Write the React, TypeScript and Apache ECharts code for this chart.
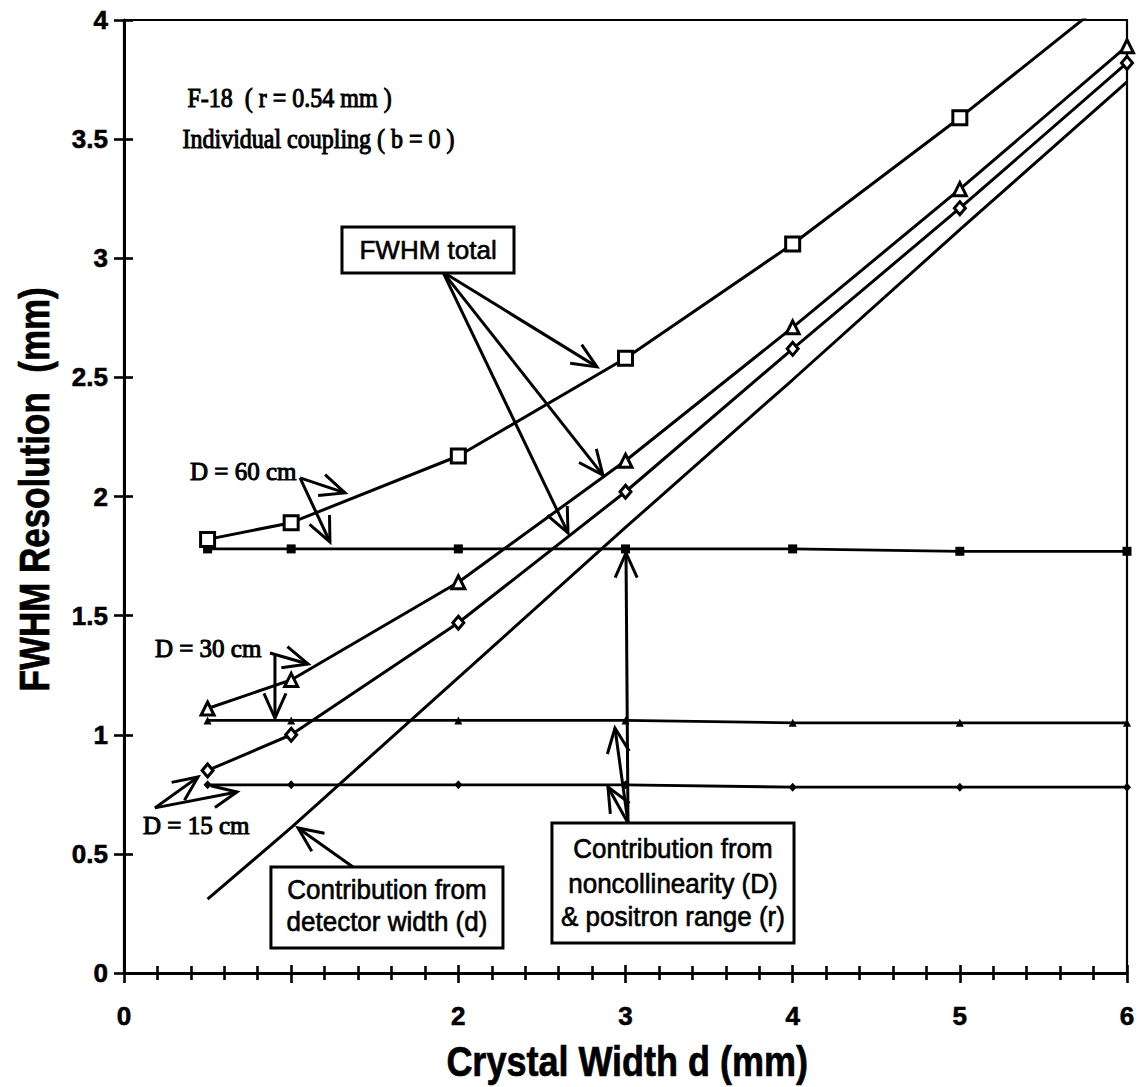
import React, { useEffect, useRef } from "react";
import * as echarts from "echarts";

// Crystal width d (mm)
const crystalWidth = [0.5, 1, 2, 3, 4, 5, 6];
// FWHM total for D = 60, 30, 15 cm
const total60 = [1.82, 1.89, 2.17, 2.58, 3.06, 3.59, 4.15];
const total30 = [1.11, 1.23, 1.64, 2.15, 2.71, 3.29, 3.89];
const total15 = [0.85, 1.0, 1.47, 2.02, 2.62, 3.21, 3.82];
// Contribution from noncollinearity (D) & positron range (r)
const noncol60 = [1.78, 1.78, 1.78, 1.78, 1.78, 1.77, 1.77];
const noncol30 = [1.06, 1.06, 1.06, 1.06, 1.05, 1.05, 1.05];
const noncol15 = [0.79, 0.79, 0.79, 0.79, 0.78, 0.78, 0.78];
// Contribution from detector width (d)
const detector = [0.31, 0.61, 1.24, 1.87, 2.49, 3.12, 3.74];
// Tick labels
const xTickLabels: Record<number, string> = { 0: "0", 1: "", 2: "2", 3: "3", 4: "4", 5: "5", 6: "6" };
const yTickLabels: Record<string, string> = {
  "0": "0", "0.5": "0.5", "1": "1", "1.5": "1.5", "2": "2", "2.5": "2.5", "3": "3", "3.5": "3.5", "4": "4",
};

const SANS = '"Liberation Sans", Arial, sans-serif';
const SERIF = '"Liberation Serif", "Times New Roman", serif';
const BLACK = "#000";

const pairs = (ys: number[]) => crystalWidth.map((x, i) => [x, ys[i]]);

function App() {
  const ref = useRef<HTMLDivElement>(null);

  useEffect(() => {
    const chart = echarts.init(ref.current!, null, { renderer: "svg" });

    const openLine = (name: string, ys: number[], symbol: string, size: any) => ({
      name,
      type: "line",
      data: pairs(ys),
      symbol,
      symbolSize: size,
      showAllSymbol: true,
      clip: true,
      z: 5,
      lineStyle: { color: BLACK, width: 3 },
      itemStyle: { color: "#fff", borderColor: BLACK, borderWidth: 3 },
      emphasis: { disabled: true },
    });
    const flatLine = (name: string, ys: number[], symbol: string, size: any) => ({
      name,
      type: "line",
      data: pairs(ys),
      symbol,
      symbolSize: size,
      showAllSymbol: true,
      clip: true,
      z: 3,
      lineStyle: { color: BLACK, width: 2.8 },
      itemStyle: { color: BLACK, borderWidth: 0 },
      emphasis: { disabled: true },
    });

    const axisLabelX = {
      fontFamily: SANS,
      fontWeight: "bold",
      fontSize: 26,
      color: BLACK,
      margin: 30,
      textBorderColor: BLACK,
      textBorderWidth: 0.6,
      formatter: (v: number) => (xTickLabels[v] !== undefined ? xTickLabels[v] : ""),
    };
    const axisLabelY = {
      fontFamily: SANS,
      fontWeight: "bold",
      fontSize: 26,
      color: BLACK,
      margin: 16,
      textBorderColor: BLACK,
      textBorderWidth: 0.6,
      formatter: (v: number) => yTickLabels[String(v)] ?? "",
    };

    const option: any = {
      animation: false,
      backgroundColor: "#fff",
      grid: {
        left: 124,
        right: 19,
        top: 20,
        bottom: 114,
        show: true,
        borderColor: BLACK,
        borderWidth: 2.2,
        containLabel: false,
      },
      xAxis: [
        {
          type: "value",
          min: 0,
          max: 6,
          interval: 1,
          position: "bottom",
          axisLine: { show: true, onZero: false, lineStyle: { color: BLACK, width: 3 } },
          axisTick: { show: true, inside: false, length: 10, lineStyle: { color: BLACK, width: 2.6 } },
          minorTick: { show: true, splitNumber: 5, length: 7, lineStyle: { color: BLACK, width: 2.6 } },
          axisLabel: axisLabelX,
          splitLine: { show: false },
        },
        {
          type: "value",
          min: 0,
          max: 6,
          interval: 1,
          position: "bottom",
          offset: 0,
          axisLine: { show: false, onZero: false },
          axisTick: { show: true, inside: true, length: 8, lineStyle: { color: BLACK, width: 2.6 } },
          minorTick: { show: true, splitNumber: 5, length: 7, lineStyle: { color: BLACK, width: 2.6 } },
          axisLabel: { show: false },
          splitLine: { show: false },
        },
      ],
      yAxis: [
        {
          type: "value",
          min: 0,
          max: 4,
          interval: 0.5,
          position: "left",
          axisLine: { show: true, onZero: false, lineStyle: { color: BLACK, width: 3 } },
          axisTick: { show: true, inside: false, length: 10, lineStyle: { color: BLACK, width: 2.6 } },
          axisLabel: axisLabelY,
          splitLine: { show: false },
        },
        {
          type: "value",
          min: 0,
          max: 4,
          interval: 0.5,
          position: "left",
          offset: 0,
          axisLine: { show: false, onZero: false },
          axisTick: { show: true, inside: true, length: 9, lineStyle: { color: BLACK, width: 2.6 } },
          axisLabel: { show: false },
          splitLine: { show: false },
        },
      ],
      series: [
        flatLine("Noncollinearity D = 60 cm", noncol60, "rect", 9),
        flatLine("Noncollinearity D = 30 cm", noncol30, "triangle", 8),
        flatLine("Noncollinearity D = 15 cm", noncol15, "diamond", [8, 9]),
        {
          name: "Detector width",
          type: "line",
          data: pairs(detector),
          symbol: "none",
          clip: true,
          z: 4,
          lineStyle: { color: BLACK, width: 3 },
          emphasis: { disabled: true },
        },
        openLine("FWHM total D = 60 cm", total60, "rect", 14),
        openLine("FWHM total D = 30 cm", total30, "triangle", 13),
        openLine("FWHM total D = 15 cm", total15, "diamond", [11, 13]),
      ],
    };

    chart.setOption(option);

    const P = (x: number, y: number) =>
      chart.convertToPixel({ xAxisIndex: 0, yAxisIndex: 0 } as any, [x, y]) as number[];

    const g: any[] = [];
    const LW = 3;

    const seg = (a: number[], b: number[], w = LW) =>
      g.push({ type: "line", z: 50, shape: { x1: a[0], y1: a[1], x2: b[0], y2: b[1] }, style: { stroke: BLACK, lineWidth: w } });

    const arrow = (from: number[], to: number[], head = 27, ang = 0.42) => {
      const a = P(from[0], from[1]);
      const t = P(to[0], to[1]);
      seg(a, t);
      const dx = a[0] - t[0];
      const dy = a[1] - t[1];
      const len = Math.hypot(dx, dy) || 1;
      const ux = dx / len;
      const uy = dy / len;
      const rot = (s: number) => [
        t[0] + head * (ux * Math.cos(s) - uy * Math.sin(s)),
        t[1] + head * (ux * Math.sin(s) + uy * Math.cos(s)),
      ];
      g.push({
        type: "polyline",
        z: 50,
        shape: { points: [rot(ang), t, rot(-ang)] },
        style: { stroke: BLACK, lineWidth: LW, fill: null, lineJoin: "miter" },
      });
    };

    const text = (s: string, at: number[], font: string, align: string, opts: any = {}) => {
      const p = P(at[0], at[1]);
      g.push({
        type: "text",
        z: 60,
        x: p[0],
        y: p[1],
        scaleY: opts.scaleY ?? 1,
        rotation: opts.rotation ?? 0,
        style: {
          text: s,
          font,
          fill: BLACK,
          stroke: opts.stroke ? BLACK : undefined,
          lineWidth: opts.stroke ?? 0,
          align,
          verticalAlign: "middle",
        },
      });
    };

    const box = (tl: number[], br: number[]) => {
      const a = P(tl[0], tl[1]);
      const b = P(br[0], br[1]);
      g.push({
        type: "rect",
        z: 55,
        shape: { x: a[0], y: a[1], width: b[0] - a[0], height: b[1] - a[1] },
        style: { fill: "#fff", stroke: BLACK, lineWidth: LW },
      });
    };

    // Header texts
    text("F-18  ( r = 0.54 mm )", [0.38, 3.672], `normal 24px ${SERIF}`, "left", { scaleY: 1.12, stroke: 0.9 });
    text("Individual coupling ( b = 0 )", [0.35, 3.5], `normal 24px ${SERIF}`, "left", { scaleY: 1.12, stroke: 0.9 });

    // FWHM total box and arrows
    box([1.304, 3.131], [2.333, 2.938]);
    text("FWHM total", [1.819, 3.035], `normal 26px ${SANS}`, "center", { stroke: 0.6 });
    arrow([1.908, 2.942], [2.829, 2.544]);
    arrow([1.908, 2.942], [2.865, 2.09]);
    arrow([1.908, 2.942], [2.656, 1.847]);

    // D labels
    text("D = 60 cm", [0.395, 2.103], `normal 25px ${SERIF}`, "left", { stroke: 1 });
    arrow([1.053, 2.078], [1.322, 2.015]);
    arrow([1.053, 2.078], [1.232, 1.809]);

    text("D = 30 cm", [0.185, 1.364], `normal 25px ${SERIF}`, "left", { stroke: 1 });
    arrow([0.873, 1.343], [1.101, 1.297]);
    arrow([0.903, 1.335], [0.903, 1.07]);

    text("D = 15 cm", [0.114, 0.621], `normal 25px ${SERIF}`, "left", { stroke: 1 });
    arrow([0.185, 0.693], [0.443, 0.823]);
    arrow([0.185, 0.693], [0.676, 0.76]);

    // Detector width box
    box([0.879, 0.445], [2.267, 0.105]);
    text("Contribution from", [1.573, 0.35], `normal 26px ${SANS}`, "center", { stroke: 0.6, scaleY: 1.08 });
    text("detector width (d)", [1.573, 0.214], `normal 26px ${SANS}`, "center", { stroke: 0.6, scaleY: 1.08 });
    arrow([1.37, 0.445], [1.041, 0.609]);

    // Noncollinearity box
    box([2.56, 0.63], [4.008, 0.126]);
    text("Contribution from", [3.284, 0.522], `normal 26px ${SANS}`, "center", { stroke: 0.6, scaleY: 1.08 });
    text("noncollinearity (D)", [3.284, 0.374], `normal 26px ${SANS}`, "center", { stroke: 0.6, scaleY: 1.08 });
    text("& positron range (r)", [3.284, 0.235], `normal 26px ${SANS}`, "center", { stroke: 0.6, scaleY: 1.08 });
    arrow([3.015, 0.63], [3.003, 1.763]);
    arrow([3.015, 0.63], [2.937, 1.028]);
    arrow([3.015, 0.63], [2.895, 0.781]);

    // Axis titles
    const xt = P(3.01, 0);
    g.push({
      type: "text",
      z: 60,
      x: xt[0],
      y: 1061,
      scaleY: 1.2,
      style: { text: "Crystal Width d (mm)", font: `bold 36px ${SANS}`, fill: BLACK, stroke: BLACK, lineWidth: 0.6, align: "center", verticalAlign: "middle" },
    });
    const yt = P(0, 2.03);
    g.push({
      type: "text",
      z: 60,
      x: 34,
      y: yt[1],
      rotation: Math.PI / 2,
      scaleY: 1.2,
      style: { text: "FWHM Resolution  (mm)", font: `bold 35px ${SANS}`, fill: BLACK, stroke: BLACK, lineWidth: 0.6, align: "center", verticalAlign: "middle" },
    });

    chart.setOption({ graphic: { elements: g } });

    return () => chart.dispose();
  }, []);

  return (
    <div
      ref={ref}
      style={{ position: "fixed", left: 0, top: 0, width: 1146, height: 1087, background: "#fff" }}
    />
  );
}

export default App;
